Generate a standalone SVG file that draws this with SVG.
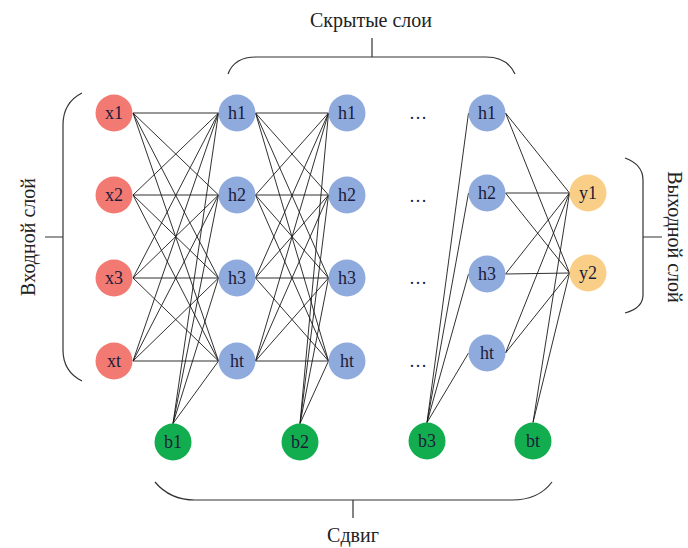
<svg xmlns="http://www.w3.org/2000/svg" width="688" height="548" viewBox="0 0 688 548">
<style>
.lbl{font-family:"Liberation Serif","Times New Roman",serif;font-size:20px;fill:#222;text-anchor:middle}
.nt{font-family:"Liberation Serif","Times New Roman",serif;font-size:18px;fill:#1c1c3a;text-anchor:middle}
.in{fill:#F27A72}
.hd{fill:#8FAADC}
.out{fill:#F9CF87}
.bs{fill:#12AD4F}
.c line{stroke:#1a1a1a;stroke-width:0.9}
.br{fill:none;stroke:#333;stroke-width:1.2}
</style>
<rect width="688" height="548" fill="#fff"/>
<g id="braces">
<path class="br" d="M228,74 C232,63 242,57 256,57 L486,57 C500,57 510,63 515,74 M372,57 L372,38"/>
<path class="br" d="M82,93 C70,99 63,110 63,125 L63,350 C63,365 70,375 82,381 M45,237 L63,237"/>
<path class="br" d="M625,158 C636,162 643,168 643,180 L643,295 C643,305 636,310 625,313 M643,237 L662,237"/>
<path class="br" d="M155,482 C165,494 178,500 195,500 L512,500 C530,500 543,494 552,482 M353,500 L353,518"/>
</g>
<g id="labels">
<text class="lbl" x="371" y="27">Скрытые слои</text>
<text class="lbl" x="353" y="542">Сдвиг</text>
<text class="lbl" transform="translate(35,237) rotate(-90)">Входной слой</text>
<text class="lbl" transform="translate(668,237) rotate(90)">Выходной слой</text>
<text class="nt" x="418" y="119">…</text>
<text class="nt" x="418" y="202">…</text>
<text class="nt" x="418" y="284">…</text>
<text class="nt" x="418" y="367">…</text>
</g>
<g id="connectors" class="c">
<line x1="133" y1="113" x2="218.5" y2="113"/><line x1="133" y1="113" x2="218.5" y2="195"/><line x1="133" y1="113" x2="218.5" y2="278"/><line x1="133" y1="113" x2="218.5" y2="361"/>
<line x1="133" y1="195" x2="218.5" y2="113"/><line x1="133" y1="195" x2="218.5" y2="195"/><line x1="133" y1="195" x2="218.5" y2="278"/><line x1="133" y1="195" x2="218.5" y2="361"/>
<line x1="133" y1="278" x2="218.5" y2="113"/><line x1="133" y1="278" x2="218.5" y2="195"/><line x1="133" y1="278" x2="218.5" y2="278"/><line x1="133" y1="278" x2="218.5" y2="361"/>
<line x1="133" y1="361" x2="218.5" y2="113"/><line x1="133" y1="361" x2="218.5" y2="195"/><line x1="133" y1="361" x2="218.5" y2="278"/><line x1="133" y1="361" x2="218.5" y2="361"/>
<line x1="173" y1="423.5" x2="218.5" y2="113"/><line x1="173" y1="423.5" x2="218.5" y2="195"/><line x1="173" y1="423.5" x2="218.5" y2="278"/><line x1="173" y1="423.5" x2="218.5" y2="361"/>
<line x1="255.5" y1="113" x2="328.5" y2="113"/><line x1="255.5" y1="113" x2="328.5" y2="195"/><line x1="255.5" y1="113" x2="328.5" y2="278"/><line x1="255.5" y1="113" x2="328.5" y2="361"/>
<line x1="255.5" y1="195" x2="328.5" y2="113"/><line x1="255.5" y1="195" x2="328.5" y2="195"/><line x1="255.5" y1="195" x2="328.5" y2="278"/><line x1="255.5" y1="195" x2="328.5" y2="361"/>
<line x1="255.5" y1="278" x2="328.5" y2="113"/><line x1="255.5" y1="278" x2="328.5" y2="195"/><line x1="255.5" y1="278" x2="328.5" y2="278"/><line x1="255.5" y1="278" x2="328.5" y2="361"/>
<line x1="255.5" y1="361" x2="328.5" y2="113"/><line x1="255.5" y1="361" x2="328.5" y2="195"/><line x1="255.5" y1="361" x2="328.5" y2="278"/><line x1="255.5" y1="361" x2="328.5" y2="361"/>
<line x1="300" y1="423.5" x2="328.5" y2="113"/><line x1="300" y1="423.5" x2="328.5" y2="195"/><line x1="300" y1="423.5" x2="328.5" y2="278"/><line x1="300" y1="423.5" x2="328.5" y2="361"/>
<line x1="427" y1="422.5" x2="468.5" y2="113"/><line x1="427" y1="422.5" x2="468.5" y2="193"/><line x1="427" y1="422.5" x2="468.5" y2="274"/><line x1="427" y1="422.5" x2="468.5" y2="353"/>
<line x1="505.5" y1="113" x2="569.5" y2="193"/><line x1="505.5" y1="113" x2="569.5" y2="273"/>
<line x1="505.5" y1="193" x2="569.5" y2="193"/><line x1="505.5" y1="193" x2="569.5" y2="273"/>
<line x1="505.5" y1="274" x2="569.5" y2="193"/><line x1="505.5" y1="274" x2="569.5" y2="273"/>
<line x1="505.5" y1="353" x2="569.5" y2="193"/><line x1="505.5" y1="353" x2="569.5" y2="273"/>
<line x1="533" y1="422.5" x2="569.5" y2="193"/><line x1="533" y1="422.5" x2="569.5" y2="273"/>
</g>
<g id="x1"><circle class="in" cx="114" cy="113" r="18.5"/><text class="nt" x="114" y="119">x1</text></g>
<g id="x2"><circle class="in" cx="114" cy="195" r="18.5"/><text class="nt" x="114" y="201">x2</text></g>
<g id="x3"><circle class="in" cx="114" cy="278" r="18.5"/><text class="nt" x="114" y="284">x3</text></g>
<g id="xt"><circle class="in" cx="114" cy="361" r="18.5"/><text class="nt" x="114" y="367">xt</text></g>
<g id="h1_1"><circle class="hd" cx="237" cy="113" r="18.5"/><text class="nt" x="237" y="119">h1</text></g>
<g id="h1_2"><circle class="hd" cx="237" cy="195" r="18.5"/><text class="nt" x="237" y="201">h2</text></g>
<g id="h1_3"><circle class="hd" cx="237" cy="278" r="18.5"/><text class="nt" x="237" y="284">h3</text></g>
<g id="h1_t"><circle class="hd" cx="237" cy="361" r="18.5"/><text class="nt" x="237" y="367">ht</text></g>
<g id="h2_1"><circle class="hd" cx="347" cy="113" r="18.5"/><text class="nt" x="347" y="119">h1</text></g>
<g id="h2_2"><circle class="hd" cx="347" cy="195" r="18.5"/><text class="nt" x="347" y="201">h2</text></g>
<g id="h2_3"><circle class="hd" cx="347" cy="278" r="18.5"/><text class="nt" x="347" y="284">h3</text></g>
<g id="h2_t"><circle class="hd" cx="347" cy="361" r="18.5"/><text class="nt" x="347" y="367">ht</text></g>
<g id="h3_1"><circle class="hd" cx="487" cy="113" r="18.5"/><text class="nt" x="487" y="119">h1</text></g>
<g id="h3_2"><circle class="hd" cx="487" cy="193" r="18.5"/><text class="nt" x="487" y="199">h2</text></g>
<g id="h3_3"><circle class="hd" cx="487" cy="274" r="18.5"/><text class="nt" x="487" y="280">h3</text></g>
<g id="h3_t"><circle class="hd" cx="487" cy="353" r="18.5"/><text class="nt" x="487" y="359">ht</text></g>
<g id="y1"><circle class="out" cx="588" cy="193" r="18.5"/><text class="nt" x="588" y="199">y1</text></g>
<g id="y2"><circle class="out" cx="588" cy="273" r="18.5"/><text class="nt" x="588" y="279">y2</text></g>
<g id="b1"><circle class="bs" cx="173" cy="442" r="18.5"/><text class="nt" x="173" y="448">b1</text></g>
<g id="b2"><circle class="bs" cx="300" cy="442" r="18.5"/><text class="nt" x="300" y="448">b2</text></g>
<g id="b3"><circle class="bs" cx="427" cy="441" r="18.5"/><text class="nt" x="427" y="447">b3</text></g>
<g id="bt"><circle class="bs" cx="533" cy="441" r="18.5"/><text class="nt" x="533" y="447">bt</text></g>
</svg>
